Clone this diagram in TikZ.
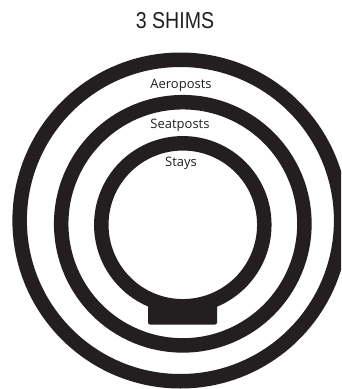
\documentclass[tikz,border=0pt]{standalone}
\usepackage{graphicx}
\usepackage{fontspec}
\setmainfont{Open Sans}
\newfontfamily\titlefont{Liberation Sans}
\definecolor{ink}{HTML}{231F20}
\begin{document}
\begin{tikzpicture}[x=1pt,y=-1pt,
  ring/.style={draw=ink,line width=14.5pt},
  lbl/.style={anchor=base,inner sep=0pt,font=\fontsize{13}{15}\selectfont,text=ink}]
\useasboundingbox (0,0) rectangle (341,389);
\clip (0,0) rectangle (341,389);
\fill[white] (0,0) rectangle (341,389);
\coordinate (co) at (180.4,220.5);
\coordinate (cm) at (182.8,223.8);
\coordinate (ci) at (182.8,224.8);
\draw[ring] (co) circle (160.75pt);
\draw[ring] (cm) circle (121.6pt);
\draw[ring] (ci) circle (81.5pt);
\fill[ink,rounded corners=2pt] (148,300) rectangle (217,324.5);
\node[anchor=base,inner sep=0pt,text=ink] (title) at (175,28)
  {\scalebox{0.85}[1]{\titlefont\fontsize{23}{25}\selectfont 3 SHIMS}};
\node[lbl] (aero) at (181,88.3) {Aeroposts};
\node[lbl] (seat) at (180,128.3) {Seatposts};
\node[lbl] (stays) at (181,166) {Stays};
\end{tikzpicture}
\end{document}
